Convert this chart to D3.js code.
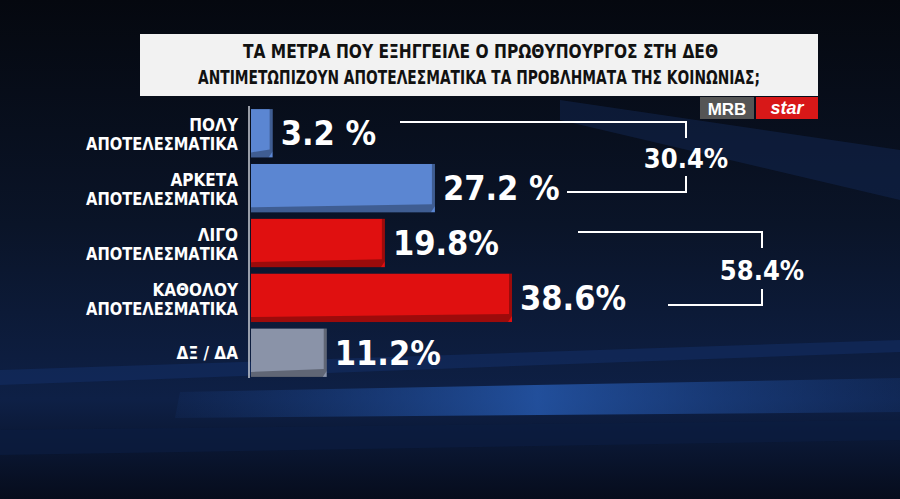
<!DOCTYPE html>
<html><head><meta charset="utf-8">
<script src="https://cdn.jsdelivr.net/npm/d3@7"></script>
<style>body{margin:0;background:#000}svg{display:block}</style>
</head><body><svg id="c" width="900" height="499"></svg>
<script>
const categories = [["ΠΟΛΥ","ΑΠΟΤΕΛΕΣΜΑΤΙΚΑ"],["ΑΡΚΕΤΑ","ΑΠΟΤΕΛΕΣΜΑΤΙΚΑ"],["ΛΙΓΟ","ΑΠΟΤΕΛΕΣΜΑΤΙΚΑ"],["ΚΑΘΟΛΟΥ","ΑΠΟΤΕΛΕΣΜΑΤΙΚΑ"],["ΔΞ / ΔΑ"]];
const values = [3.2, 27.2, 19.8, 38.6, 11.2];
const valueLabels = ["3.2 %","27.2 %","19.8%","38.6%","11.2%"];
const colors = ["#5b86d2","#5b86d2","#e01010","#e01010","#8a93a8"];
const groupTotals = ["30.4%","58.4%"];
const titleLines = ["ΤΑ ΜΕΤΡΑ ΠΟΥ ΕΞΗΓΓΕΙΛΕ Ο ΠΡΩΘΥΠΟΥΡΓΟΣ ΣΤΗ ΔΕΘ","ΑΝΤΙΜΕΤΩΠΙΖΟΥΝ ΑΠΟΤΕΛΕΣΜΑΤΙΚΑ ΤΑ ΠΡΟΒΛΗΜΑΤΑ ΤΗΣ ΚΟΙΝΩΝΙΑΣ;"];

const COND = "'DejaVu Sans Condensed','DejaVu Sans',sans-serif";
const svg = d3.select("#c");
const defs = svg.append("defs");
const bg = defs.append("linearGradient").attr("id","bg").attr("x1",0).attr("y1",0).attr("x2",0).attr("y2",1);
bg.append("stop").attr("offset","0").attr("stop-color","#05080f");
bg.append("stop").attr("offset","0.45").attr("stop-color","#0a1428");
bg.append("stop").attr("offset","0.8").attr("stop-color","#0e2046");
bg.append("stop").attr("offset","1").attr("stop-color","#060c1c");
svg.append("rect").attr("width",900).attr("height",499).attr("fill","url(#bg)");
const sg = defs.append("linearGradient").attr("id","sg").attr("x1",0).attr("x2",1);
sg.append("stop").attr("offset","0").attr("stop-color","#1d4a9a").attr("stop-opacity",0.1);
sg.append("stop").attr("offset","0.5").attr("stop-color","#2a63c0").attr("stop-opacity",0.7);
sg.append("stop").attr("offset","1").attr("stop-color","#1d4a9a").attr("stop-opacity",0.2);
svg.append("path").attr("d","M180,392 L900,378 L900,412 L175,418 Z").attr("fill","url(#sg)");
svg.append("path").attr("d","M0,370 L900,340 L900,352 L0,385 Z").attr("fill","#13306a").attr("opacity",0.5);
svg.append("path").attr("d","M560,100 L900,150 L900,200 L560,120 Z").attr("fill","#142a58").attr("opacity",0.45);
svg.append("path").attr("d","M0,430 L900,420 L900,440 L0,455 Z").attr("fill","#0c1d40").attr("opacity",0.7);

svg.append("rect").attr("x",140).attr("y",34).attr("width",678).attr("height",62).attr("fill","#f2f2f2");
svg.selectAll(".tt").data(titleLines).join("text")
  .attr("x",(d,i)=>i?198:243).attr("y",(d,i)=>58+i*26)
  .attr("font-family",COND).attr("font-weight","bold")
  .attr("font-size",20).attr("fill","#111").attr("textLength",(d,i)=>i?562:475).attr("lengthAdjust","spacingAndGlyphs").text(d=>d);
svg.append("rect").attr("x",700).attr("y",97).attr("width",54).attr("height",22).attr("fill","#555");
svg.append("text").attr("x",727).attr("y",115).attr("text-anchor","middle").attr("fill","#fff").attr("font-family","Liberation Sans").attr("font-weight","bold").attr("font-size",17).text("MRB");
svg.append("rect").attr("x",756).attr("y",97).attr("width",62).attr("height",22).attr("fill","#d81818");
svg.append("text").attr("x",787).attr("y",114).attr("text-anchor","middle").attr("fill","#fff").attr("font-family","Liberation Sans").attr("font-weight","bold").attr("font-style","italic").attr("font-size",18).text("star");

const x = d3.scaleLinear().domain([0,38.6]).range([251,512]);
const y = d3.scaleBand().domain(d3.range(values.length)).range([108,378]).paddingInner(0.12).paddingOuter(0.02);
svg.append("line").attr("x1",249).attr("x2",249).attr("y1",106).attr("y2",378).attr("stroke","#c8ccd4").attr("stroke-width",1.5);

const g = svg.selectAll(".bar").data(values).join("g");
g.append("rect").attr("x",x(0)).attr("y",(d,i)=>y(i)).attr("width",d=>x(d)-x(0)).attr("height",y.bandwidth())
  .attr("fill",(d,i)=>colors[i]);
g.append("path").attr("d",(d,i)=>{const x1=x(d),y0=y(i),h=y.bandwidth();return `M${x(0)},${y0+h} L${x1-4},${y0+h} L${x1},${y0+h-6} L${x1},${y0} L${x1-3},${y0} L${x1-3},${y0+h-8} L${x(0)},${y0+h-5}Z`;})
  .attr("fill","#000").attr("opacity",0.3);
g.append("text").attr("x",d=>x(d)+8).attr("y",(d,i)=>y(i)+y.bandwidth()/2+12)
  .attr("fill","#fff").attr("font-family",COND).attr("font-weight","bold").attr("font-size",34)
  .text((d,i)=>valueLabels[i]);
g.each(function(d,i){
  const t=d3.select(this).append("text").attr("text-anchor","end").attr("fill","#fff")
    .attr("font-family",COND).attr("font-weight","bold").attr("font-size",17);
  const c=categories[i], cy=y(i)+y.bandwidth()/2;
  c.forEach((s,k)=>{const ts=t.append("tspan").attr("x",238).attr("y",cy+(c.length===1?6:(k?17:-2))).text(s);
    if(s.length>10) ts.attr("textLength",152).attr("lengthAdjust","spacingAndGlyphs");});
});

const br = [{x1:400,yt:122,xv:686,x2:567,yb:192,tx:686,ty:168,i:0},{x1:578,yt:232,xv:762,x2:668,yb:305,tx:762,ty:280,i:1}];
br.forEach(b=>{
  svg.append("path").attr("d",`M${b.x1},${b.yt} H${b.xv} V${b.yt+16} M${b.xv},${b.yb-16} V${b.yb} H${b.x2}`)
    .attr("fill","none").attr("stroke","#fff").attr("stroke-width",2);
  svg.append("text").attr("x",b.tx).attr("y",b.ty).attr("text-anchor","middle").attr("fill","#fff")
    .attr("font-family",COND).attr("font-weight","bold").attr("font-size",27).text(groupTotals[b.i]);
});
</script></body></html>
